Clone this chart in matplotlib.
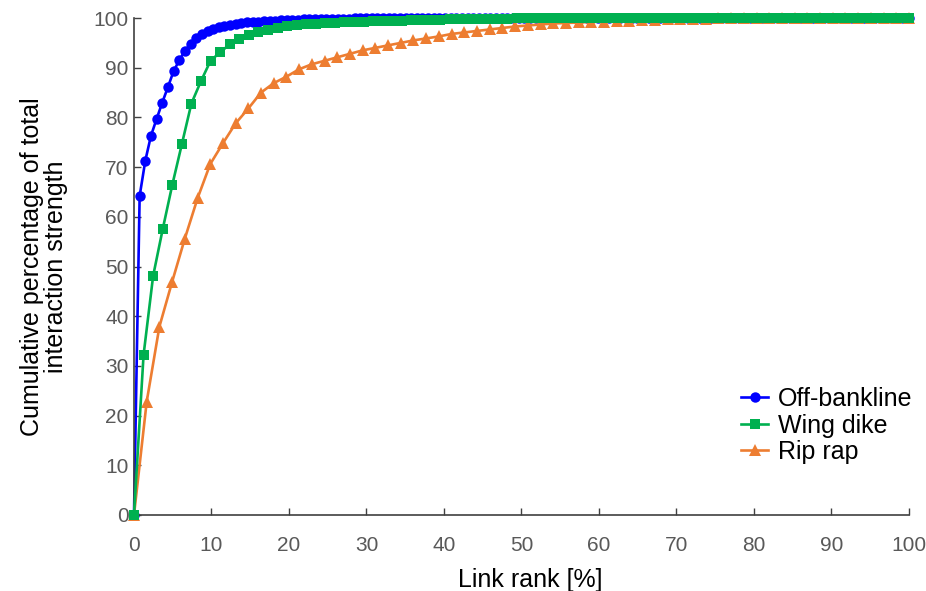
import matplotlib

matplotlib.use("Agg")
import matplotlib.pyplot as plt
import numpy as np

plt.rcParams["font.family"] = ["Liberation Sans", "DejaVu Sans"]

TICK_GREY = "#595959"

# Cumulative percentage of total interaction strength, one value per ranked link
# (first entry is the origin at rank 0).
OFF_BANKLINE = [
    0.0, 64.2, 71.3, 76.3, 79.7, 83.0, 86.1, 89.3, 91.5, 93.4,
    94.8, 96.0, 96.8, 97.4, 97.8, 98.1, 98.4, 98.6, 98.8, 98.95,
    99.1, 99.2, 99.3, 99.4, 99.45, 99.5, 99.55, 99.6, 99.65, 99.7,
    99.72, 99.75, 99.78, 99.8, 99.82, 99.84, 99.86, 99.88, 99.9, 99.91,
    99.92, 99.93, 99.94, 99.95, 99.96, 99.97, 99.97, 99.98, 99.98, 99.99,
    100.0, 100.0, 100.0, 100.0, 100.0, 100.0, 100.0, 100.0, 100.0, 100.0,
    100.0, 100.0, 100.0, 100.0, 100.0, 100.0, 100.0, 100.0, 100.0, 100.0,
    100.0, 100.0, 100.0, 100.0, 100.0, 100.0, 100.0, 100.0, 100.0, 100.0,
    100.0, 100.0, 100.0, 100.0, 100.0, 100.0, 100.0, 100.0, 100.0, 100.0,
    100.0, 100.0, 100.0, 100.0, 100.0, 100.0, 100.0, 100.0, 100.0, 100.0,
    100.0, 100.0, 100.0, 100.0, 100.0, 100.0, 100.0, 100.0, 100.0, 100.0,
    100.0, 100.0, 100.0, 100.0, 100.0, 100.0, 100.0, 100.0, 100.0, 100.0,
    100.0, 100.0, 100.0, 100.0, 100.0, 100.0, 100.0, 100.0, 100.0, 100.0,
    100.0, 100.0, 100.0, 100.0, 100.0, 100.0, 100.0, 100.0,
]

WING_DIKE = [
    0.0, 32.2, 48.1, 57.5, 66.4, 74.6, 82.8, 87.3, 91.4, 93.1,
    94.7, 95.7, 96.6, 97.2, 97.6, 98.0, 98.3, 98.5, 98.7, 98.8,
    98.9, 99.0, 99.1, 99.2, 99.3, 99.35, 99.4, 99.45, 99.5, 99.55,
    99.6, 99.65, 99.7, 99.72, 99.75, 99.8, 99.82, 99.85, 99.87, 99.9,
    99.92, 99.94, 99.95, 99.96, 99.97, 99.98, 99.99, 100.0, 100.0, 100.0,
    100.0, 100.0, 100.0, 100.0, 100.0, 100.0, 100.0, 100.0, 100.0, 100.0,
    100.0, 100.0, 100.0, 100.0, 100.0, 100.0, 100.0, 100.0, 100.0, 100.0,
    100.0, 100.0, 100.0, 100.0, 100.0, 100.0, 100.0, 100.0, 100.0, 100.0,
    100.0, 100.0,
]

RIP_RAP = [
    0.0, 22.8, 37.9, 46.9, 55.6, 63.7, 70.6, 74.8, 78.8, 81.8,
    85.0, 86.9, 88.2, 89.7, 90.7, 91.4, 92.1, 92.8, 93.5, 94.0,
    94.5, 95.0, 95.5, 95.9, 96.3, 96.8, 97.1, 97.4, 97.7, 98.0,
    98.3, 98.5, 98.7, 98.9, 99.0, 99.1, 99.2, 99.3, 99.4, 99.5,
    99.6, 99.7, 99.75, 99.8, 99.85, 99.9, 99.92, 99.94, 99.96, 99.98,
    100.0, 100.0, 100.0, 100.0, 100.0, 100.0, 100.0, 100.0, 100.0, 100.0,
    100.0, 100.0,
]

SERIES = [
    ("Off-bankline", OFF_BANKLINE, "#0000FF", "o", 7.5, 2),
    ("Wing dike", WING_DIKE, "#00B050", "s", 7.0, 4),
    ("Rip rap", RIP_RAP, "#ED7D31", "^", 8.0, 3),
]


def rank_pct(values):
    # link rank as percentage of all links
    n = len(values) - 1
    return np.arange(n + 1) / n * 100.0


fig = plt.figure(figsize=(9.26, 5.91), dpi=100)
ax = fig.add_axes([0.1447, 0.1286, 0.8369, 0.8409])

for label, vals, color, marker, ms, z in SERIES:
    ax.plot(
        rank_pct(vals), vals,
        color=color, marker=marker, markersize=ms, linewidth=1.9,
        markeredgewidth=0, label=label, zorder=z, clip_on=False,
    )

ax.set_xlim(0, 100)
ax.set_ylim(0, 100)
ax.set_xticks(np.arange(0, 101, 10))
ax.set_yticks(np.arange(0, 101, 10))
ax.tick_params(direction="in", length=5, width=1, colors="#404040",
               labelcolor=TICK_GREY, labelsize=15)
ax.tick_params(axis="x", pad=15)
ax.tick_params(axis="y", pad=4)

for side in ("top", "right"):
    ax.spines[side].set_visible(False)
for side in ("left", "bottom"):
    ax.spines[side].set_color("#404040")
    ax.spines[side].set_linewidth(1.2)

ax.set_xlabel("Link rank [%]", fontsize=18, color="black")
ax.xaxis.set_label_coords(0.511, -0.107)
ax.set_ylabel("Cumulative percentage of total\ninteraction strength",
              fontsize=18, color="black", linespacing=1.0)
ax.yaxis.set_label_coords(-0.085, 0.5)

ax.legend(
    loc="center left", bbox_to_anchor=(0.771, 0.18), frameon=False,
    fontsize=18, handlelength=1.05, handletextpad=0.4, labelspacing=0.1,
    borderaxespad=0,
)

fig.savefig("out.png", dpi=100)
